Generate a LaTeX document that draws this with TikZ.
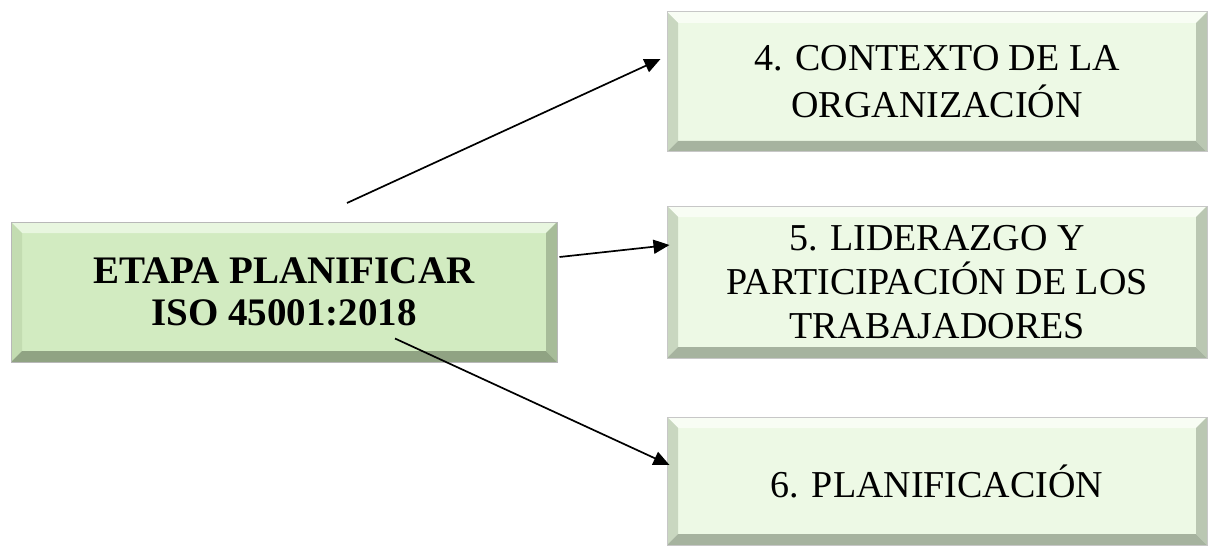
\documentclass[tikz,border=0pt]{standalone}
\usepackage{fontspec}
\setmainfont{Liberation Serif}
\usetikzlibrary{arrows.meta}

\definecolor{verdeFondo}{HTML}{D2EBC1}
\definecolor{verdeSup}{HTML}{E8F6DF}
\definecolor{verdeIzq}{HTML}{C3DCB1}
\definecolor{verdeInf}{HTML}{90A383}
\definecolor{verdeDer}{HTML}{A7BC99}
\definecolor{claroFondo}{HTML}{EDF9E5}
\definecolor{claroSup}{HTML}{F8FDF4}
\definecolor{claroIzq}{HTML}{C9D7C0}
\definecolor{claroInf}{HTML}{A6B39F}
\definecolor{claroDer}{HTML}{BAC7B2}

\tikzset{every picture/.style={line width=0.75pt}}
\tikzset{
  bisel/.style n args={4}{path picture={
    % top
    \fill[#1] (path picture bounding box.north west) -- (path picture bounding box.north east) -- ([shift={(-11pt,-11pt)}]path picture bounding box.north east) -- ([shift={(11pt,-11pt)}]path picture bounding box.north west) -- cycle;
    % left
    \fill[#2] (path picture bounding box.north west) -- (path picture bounding box.south west) -- ([shift={(11pt,11pt)}]path picture bounding box.south west) -- ([shift={(11pt,-11pt)}]path picture bounding box.north west) -- cycle;
    % bottom
    \fill[#3] (path picture bounding box.south west) -- (path picture bounding box.south east) -- ([shift={(-11pt,11pt)}]path picture bounding box.south east) -- ([shift={(11pt,11pt)}]path picture bounding box.south west) -- cycle;
    % right
    \fill[#4] (path picture bounding box.north east) -- (path picture bounding box.south east) -- ([shift={(-11pt,11pt)}]path picture bounding box.south east) -- ([shift={(-11pt,-11pt)}]path picture bounding box.north east) -- cycle;
  }},
  etapa/.style={draw=black!28, line width=1pt, fill=verdeFondo, bisel={verdeSup}{verdeIzq}{verdeInf}{verdeDer}, inner sep=0pt, align=center, minimum width=546pt, minimum height=140pt, font=\fontsize{39}{42}\selectfont\bfseries},
  clausula/.style={draw=black!22, line width=1pt, fill=claroFondo, bisel={claroSup}{claroIzq}{claroInf}{claroDer}, inner sep=0pt, align=center, minimum width=540pt, font=\fontsize{38}{44}\selectfont},
  flecha/.style={-{Triangle[length=16pt,width=14pt]}, line width=1.7pt}
}

\begin{document}
\begin{tikzpicture}[x=1pt,y=1pt,yscale=-1,xscale=1]
\useasboundingbox (0,0) rectangle (1209,548);

%Shape: Rectangle [etapa]
\node[etapa] (plan) at (284,292) {ETAPA PLANIFICAR\\ISO 45001:2018};

%Shape: Rectangle [clausulas]
\node[clausula, minimum height=140pt] (ctx) at (937,82) {\raisebox{3pt}{4. CONTEXTO DE LA}\\ORGANIZACIÓN};
\node[clausula, minimum height=152pt] (lid) at (937,282) {5. LIDERAZGO Y\\PARTICIPACIÓN DE LOS\\TRABAJADORES};
\node[clausula, minimum height=128pt] (pla) at (937,481) {\raisebox{-8pt}{6. PLANIFICACIÓN}};

%Straight Lines
\coordinate (a1) at (347,203);
\draw[flecha] (a1) -- ([shift={(-6pt,-23pt)}]ctx.west);
\draw[flecha] ([shift={(2pt,-35pt)}]plan.east) -- ([shift={(3pt,-37pt)}]lid.west);
\draw[flecha] ([shift={(111pt,-24pt)}]plan.south) -- ([shift={(3pt,-16pt)}]pla.west);

\end{tikzpicture}
\end{document}
